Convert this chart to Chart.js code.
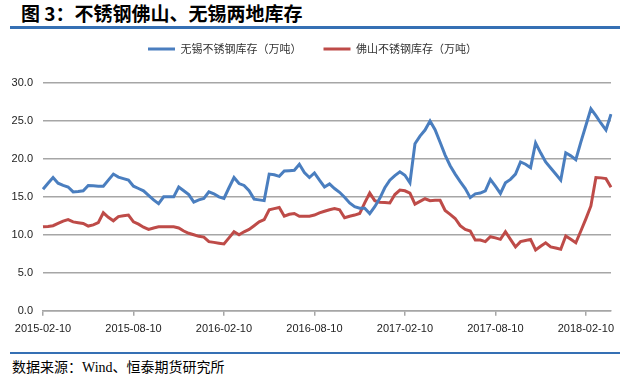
<!DOCTYPE html>
<html>
<head>
<meta charset="utf-8">
<script src="https://cdn.jsdelivr.net/npm/chart.js@4.4.1/dist/chart.umd.min.js"></script>
<style>
  html, body { margin: 0; padding: 0; background: #fff; }
  body { width: 625px; height: 378px; position: relative; overflow: hidden; }
  #title { position: absolute; left: 21px; top: 0; font: bold 19px "Noto Sans CJK SC"; color: #000; white-space: nowrap; line-height: 25px; }
  .rule { position: absolute; left: 10px; width: 610px; background: #3570b4; }
  #rule-top { top: 26px; height: 3px; }
  #rule-bottom { top: 352px; height: 2px; }
  #source { position: absolute; left: 12px; top: 358px; font: 14px "Liberation Serif", "Noto Sans CJK SC"; color: #000; line-height: 20px; white-space: nowrap; }
  #chart-box { position: absolute; left: 0; top: 20px; width: 625px; height: 330px; }
</style>
</head>
<body>
<div id="title">图 3：不锈钢佛山、无锡两地库存</div>
<div class="rule" id="rule-top"></div>
<div id="chart-box"><canvas id="stockChart"></canvas></div>
<div class="rule" id="rule-bottom"></div>
<div id="source">数据来源：Wind、恒泰期货研究所</div>

<script>
// Series names
const seriesNames = ['无锡不锈钢库存（万吨）', '佛山不锈钢库存（万吨）'];

// 无锡 inventory, one value per ten-day period from 2015-02-10
const wuxiStock = [
  16.0, 16.8, 17.55, 16.8, 16.5, 16.3, 15.65, 15.7, 15.8, 16.5,
  16.45, 16.4, 16.4, 17.2, 18.0, 17.6, 17.4, 17.2, 16.4, 16.1,
  15.8, 15.2, 14.6, 14.1, 15.0, 15.0, 15.0, 16.3, 15.8, 15.3,
  14.3, 14.6, 14.8, 15.65, 15.4, 15.0, 14.8, 16.2, 17.55, 16.75,
  16.5, 15.8, 14.7, 14.6, 14.5, 18.0, 17.9, 17.7, 18.4, 18.45,
  18.5, 19.3, 18.2, 17.55, 18.15, 17.2, 16.3, 16.7, 16.1, 15.6,
  14.95, 14.2, 13.7, 13.5, 13.5, 12.8, 13.7, 14.8, 16.2, 17.2,
  17.8, 18.3, 17.85, 16.85, 22.0, 23.0, 23.8, 25.0, 23.85, 22.2,
  20.5, 19.1, 18.0, 17.0, 16.1, 14.9, 15.4, 15.5, 15.8, 17.3,
  16.4, 15.45, 16.85, 17.3, 18.0, 19.6, 19.3, 18.85, 22.1, 20.8,
  19.6, 18.8, 18.0, 17.2, 20.8, 20.4, 19.9, 22.2, 24.4, 26.6,
  25.7, 24.7, 23.8, 25.9
];

// 佛山 inventory
const foshanStock = [
  11.05, 11.1, 11.2, 11.5, 11.8, 12.0, 11.7, 11.6, 11.5, 11.15,
  11.3, 11.6, 12.9, 12.3, 11.85, 12.4, 12.5, 12.6, 11.7, 11.4,
  11.0, 10.7, 10.9, 11.05, 11.05, 11.05, 11.05, 10.9, 10.5, 10.2,
  10.0, 9.8, 9.7, 9.1, 9.0, 8.9, 8.8, 9.6, 10.4, 10.0,
  10.4, 10.7, 11.2, 11.7, 12.0, 13.3, 13.45, 13.6, 12.45, 12.7,
  12.8, 12.45, 12.45, 12.45, 12.6, 12.9, 13.1, 13.3, 13.45, 13.3,
  12.25, 12.45, 12.6, 12.8, 14.2, 15.5, 14.5, 14.3, 14.25, 14.2,
  15.3, 15.9, 15.8, 15.5, 14.05, 14.4, 14.75, 14.5, 14.55, 14.55,
  13.2, 12.7, 12.15, 11.2, 10.7, 10.5, 9.3, 9.3, 9.1, 9.75,
  9.6, 9.4, 10.4, 9.4, 8.4, 9.1, 9.25, 9.4, 8.0, 8.5,
  8.95, 8.4, 8.25, 8.1, 9.85, 9.4, 8.95, 10.5, 12.1, 13.8,
  17.55, 17.5, 17.4, 16.25
];

// y axis ticks
const yTicks = [0, 5, 10, 15, 20, 25, 30];
// only every 18th date gets a label (2015-02-10, 2015-08-10, ...)
const labelEvery = 18;

// dates on the 10th, 20th and last day of each month
function tenDayDates(year, month, count) {
  const out = [];
  while (out.length < count) {
    const last = new Date(year, month, 0).getDate();
    [10, 20, last].forEach(d => {
      if (out.length < count) {
        out.push(year + '-' + String(month).padStart(2, '0') + '-' + String(d).padStart(2, '0'));
      }
    });
    month++;
    if (month > 12) { month = 1; year++; }
  }
  return out;
}

const dates = tenDayDates(2015, 2, wuxiStock.length);

// give the legend some room below it
const legendGap = {
  id: 'legendGap',
  beforeInit(chart) {
    const originalFit = chart.legend.fit;
    chart.legend.fit = function () {
      originalFit.bind(chart.legend)();
      this.height += 18.5;
    };
  }
};

const gridColor = '#a6a6a6';
const tickFont = { family: '"Liberation Sans", Arial, sans-serif', size: 11 };

new Chart(document.getElementById('stockChart'), {
  type: 'line',
  data: {
    labels: dates,
    datasets: [
      {
        label: seriesNames[0],
        data: wuxiStock,
        borderColor: '#4a7ebf',
        backgroundColor: '#4a7ebf',
        borderWidth: 3,
        pointRadius: 0,
        tension: 0
      },
      {
        label: seriesNames[1],
        data: foshanStock,
        borderColor: '#be4b48',
        backgroundColor: '#be4b48',
        borderWidth: 3,
        pointRadius: 0,
        tension: 0
      }
    ]
  },
  options: {
    responsive: true,
    maintainAspectRatio: false,
    animation: false,
    layout: {
      padding: { left: 0, right: 0, top: 1.5, bottom: 11.3 }
    },
    plugins: {
      legend: {
        position: 'top',
        labels: {
          usePointStyle: true,
          pointStyle: 'line',
          pointStyleWidth: 27,
          padding: 22,
          color: '#333',
          font: { family: '"Noto Sans CJK SC"', size: 11 }
        }
      },
      tooltip: { enabled: false }
    },
    scales: {
      x: {
        type: 'category',
        offset: false,
        grid: {
          display: true,
          drawOnChartArea: false,
          drawTicks: true,
          tickLength: 5,
          color: gridColor,
          lineWidth: 1.5
        },
        border: { display: true, color: gridColor, width: 1.5 },
        ticks: {
          autoSkip: false,
          maxRotation: 0,
          padding: 7,
          color: '#222',
          font: tickFont,
          callback: function (value, index) {
            return index % labelEvery === 0 ? this.getLabelForValue(value) : null;
          }
        },
        afterFit: scale => { scale.height = 28; }
      },
      y: {
        min: yTicks[0],
        max: yTicks[yTicks.length - 1],
        grid: {
          color: gridColor,
          lineWidth: 1.5,
          drawTicks: false
        },
        border: { display: false },
        ticks: {
          stepSize: yTicks[1] - yTicks[0],
          padding: 10,
          color: '#222',
          font: tickFont,
          callback: v => v.toFixed(1)
        },
        afterFit: scale => { scale.width = 43; }
      },
      // empty strip on the right so the plot stops short of the edge
      yRight: {
        position: 'right',
        grid: { display: false, drawTicks: false },
        border: { display: false },
        ticks: { display: false },
        afterFit: scale => { scale.width = 14; }
      }
    }
  },
  plugins: [legendGap]
});
</script>
</body>
</html>
